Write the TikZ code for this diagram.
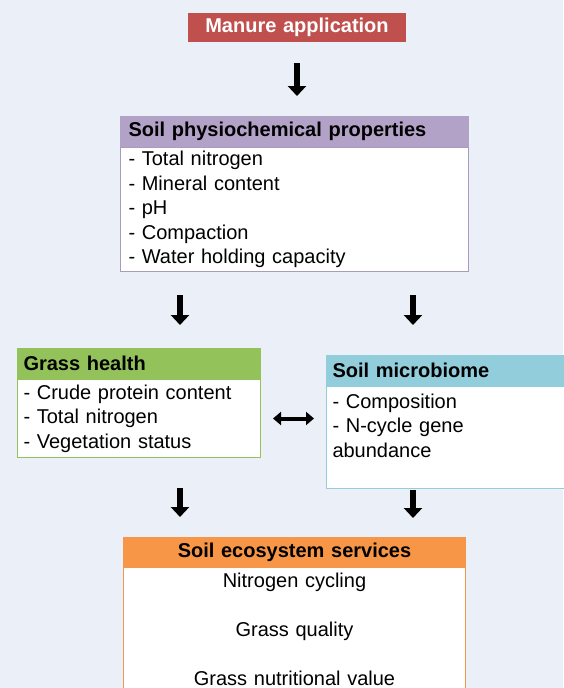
\documentclass[tikz,border=0pt]{standalone}
\usepackage{fontspec}
\setmainfont{Liberation Sans}
\usetikzlibrary{positioning,arrows.meta}

\definecolor{bgblue}{HTML}{EAEFF8}
\definecolor{manred}{HTML}{C0504D}
\definecolor{physpurple}{HTML}{B3A2C7}
\definecolor{grassgreen}{HTML}{94C25A}
\definecolor{microblue}{HTML}{92CDDC}
\definecolor{ecoorange}{HTML}{F79646}

\tikzset{
  txt/.style={font=\fontsize{20}{24.5}\selectfont},
  headbox/.style={draw=#1, fill=#1, line width=1pt, minimum height=30pt,
    inner ysep=0pt, align=left, font=\fontsize{20}{24.5}\selectfont\bfseries},
  bodybox/.style={draw=#1, fill=white, line width=1pt, inner ysep=2pt,
    align=left, txt},
  downarrow/.style={-{Triangle[width=18pt,length=10pt]}, line width=6.5pt},
  bothways/.style={{Triangle[width=13pt,length=8pt]}-{Triangle[width=13pt,length=8pt]}, line width=4pt}
}

\begin{document}
\begin{tikzpicture}[x=1pt, y=-1pt]

  % Hintergrund
  \fill[bgblue] (0,0) rectangle (563,688);
  \useasboundingbox (0,0) rectangle (563,688);

  % Spalten der Pfeile
  \coordinate (colL) at (180,0);
  \coordinate (colR) at (413,0);

  % Gülleausbringung
  \node[headbox=manred, text=white, inner xsep=8pt, text width=201pt, align=center, minimum height=28pt, anchor=north west]
    (manure) at (188,13) {Manure application};

  % Bodeneigenschaften
  \node[headbox=physpurple, inner xsep=8pt, text width=332pt, anchor=north west]
    (physHead) at (120,116) {Soil physiochemical properties};
  \node[bodybox=physpurple!80!gray, inner xsep=8pt, text width=332pt, minimum height=124pt, below=0pt of physHead]
    (physBody) {- Total nitrogen\\- Mineral content\\- pH\\- Compaction\\- Water holding capacity};

  % Grasgesundheit
  \node[headbox=grassgreen, inner xsep=6pt, text width=231pt, anchor=north west]
    (grassHead) at (17,348) {Grass health};
  \node[bodybox=grassgreen, inner xsep=6pt, text width=231pt, minimum height=78pt, below=0pt of grassHead]
    (grassBody) {- Crude protein content\\- Total nitrogen\\- Vegetation status};

  % Mikrobiom
  \node[headbox=microblue, inner xsep=6pt, text width=228pt, anchor=north west]
    (microHead) at (326,355) {Soil microbiome};
  \node[bodybox=microblue, inner xsep=6pt, text width=228pt, minimum height=102pt, below=0pt of microHead]
    (microBody) {- Composition\\- N-cycle gene\\abundance\\ ~};

  % Ökosystemleistungen
  \node[headbox=ecoorange, inner xsep=8pt, text width=326pt, align=center, minimum height=29pt, anchor=north west]
    (ecoHead) at (123,537) {Soil ecosystem services};
  \node[bodybox=ecoorange, inner xsep=8pt, inner ysep=6pt, text width=326pt, align=center, below=0pt of ecoHead]
    (ecoBody) {Nitrogen cycling\\[24.5pt]Grass quality\\[24.5pt]Grass nutritional value\\ ~};

  % Pfeile
  \draw[downarrow, shorten <=21pt, shorten >=20pt] (manure.south) -- (manure.south |- physHead.north);
  \draw[downarrow, shorten <=23pt, shorten >=23pt] (physBody.south -| colL) -- (grassHead.north -| colL);
  \draw[downarrow, shorten <=23pt, shorten >=30pt] (physBody.south -| colR) -- (microHead.north -| colR);
  \draw[downarrow, shorten <=30pt, shorten >=20pt] (grassBody.south -| colL) -- (ecoHead.north -| colL);
  \draw[downarrow, shorten <=1pt, shorten >=19pt] (microBody.south -| colR) -- (ecoHead.north -| colR);

  % Wechselwirkung
  \draw[bothways, shorten <=12pt, shorten >=12pt] (grassBody.east) -- (microBody.west |- grassBody.east);

\end{tikzpicture}
\end{document}
